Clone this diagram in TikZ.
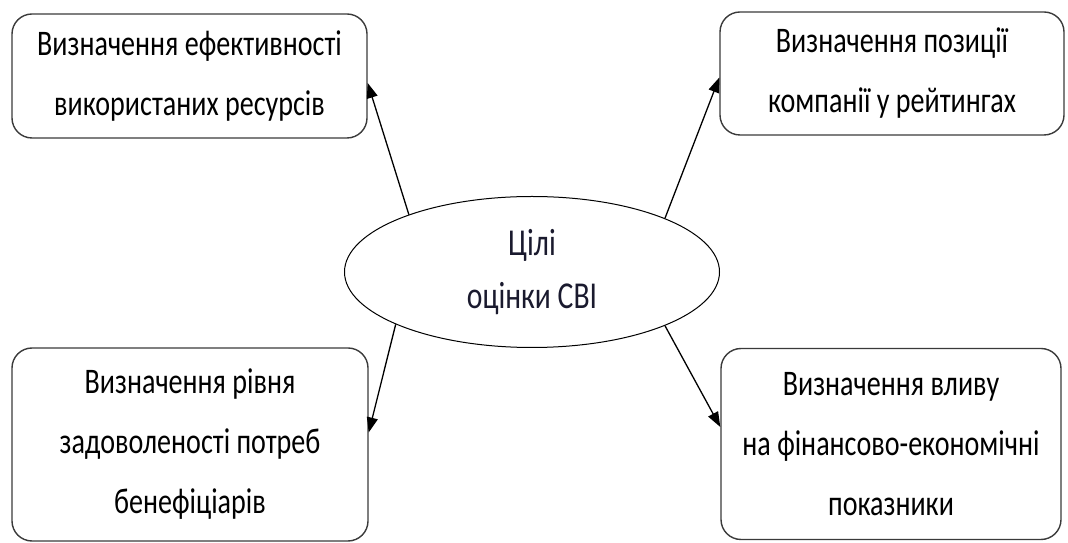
\documentclass[tikz,border=0pt]{standalone}
\usepackage{fontspec}
\setmainfont{Carlito}[FakeStretch=0.78]
\usetikzlibrary{arrows.meta}
\usetikzlibrary{shapes.geometric}
\definecolor{edge}{HTML}{3A3A3A}
\definecolor{ink}{HTML}{1A1A2E}

\begin{document}
\begin{tikzpicture}[x=1pt,y=1pt,
	box/.style={draw=edge, line width=1.4pt, rounded corners=20pt, align=center, inner sep=0pt, font=\fontsize{36}{60}\selectfont},
	goal/.style={draw=black, line width=1pt, ellipse, inner sep=0pt, align=center, text=ink, font=\fontsize{38}{53}\selectfont},
	arr/.style={line width=1.3pt, -{Triangle[length=15pt,width=11pt]}}]
	\useasboundingbox (0,0) rectangle (1068,543);
	\node[goal, minimum width=375pt, minimum height=151pt] (aims) at (532,271) {Цілі\\оцінки СВІ};
	\node[box, minimum width=355pt, minimum height=124pt] (effect) at (189.5,467) {Визначення ефективності\\використаних ресурсів};
	\node[box, minimum width=344pt, minimum height=123pt] (rating) at (892,469.5) {Визначення позиції\\компанії у рейтингах};
	\node[box, minimum width=356pt, minimum height=193pt] (benef) at (190,98.5) {Визначення рівня\\задоволеності потреб\\бенефіціарів};
	\node[box, minimum width=340pt, minimum height=191pt] (impact) at (891,99) {Визначення вливу\\на фінансово-економічні\\показники};
	%arrows
	\draw[arr] (aims.155) -- ([yshift=-7pt]effect.east);
	\draw[arr] (aims.22) -- ([yshift=-4pt]rating.west);
	\draw[arr] (aims.201) -- ([yshift=12pt]benef.east);
	\draw[arr] (aims.338) -- ([yshift=17pt]impact.west);
\end{tikzpicture}
\end{document}
